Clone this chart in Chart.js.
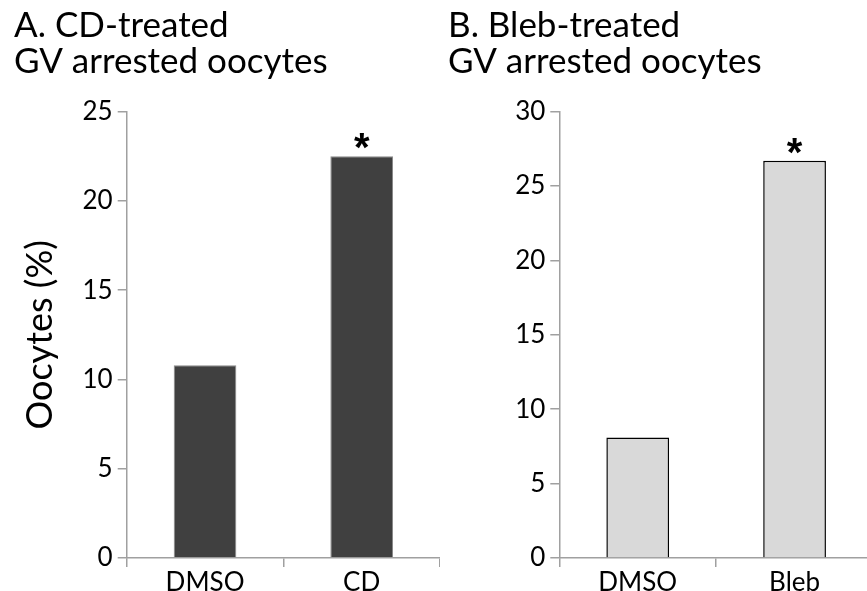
<!DOCTYPE html>
<html>
<head>
<meta charset="utf-8">
<script src="https://cdn.jsdelivr.net/npm/chart.js@4.4.0/dist/chart.umd.min.js"></script>
<style>
  html, body { margin:0; padding:0; background:#fff; }
  body { width:867px; height:591px; overflow:hidden; position:relative; }
  #wa { position:absolute; left:0; top:0; width:440px; height:591px; }
  #wb { position:absolute; left:440px; top:0; width:433px; height:591px; }
</style>
</head>
<body>
<div id="wa"><canvas id="ca" width="440" height="591"></canvas></div>
<div id="wb"><canvas id="cb" width="433" height="591"></canvas></div>
<script>
// ---- data ----
const categoriesA = ['DMSO', 'CD'];
const valuesA = [10.8, 22.5];
const marksA = ['', '*'];
const titleA = ['A. CD-treated', 'GV arrested oocytes'];

const categoriesB = ['DMSO', 'Bleb'];
const valuesB = [8.1, 26.7];
const marksB = ['', '*'];
const titleB = ['B. Bleb-treated', 'GV arrested oocytes'];

const yTitle = 'Oocytes (%)';
const yMaxA = 25, yMaxB = 30, yStep = 5;

const FONT = 'Lato, "Open Sans", sans-serif';
const AXIS = '#a0a0a0';

const starPlugin = {
  id: 'stars',
  afterDatasetsDraw(chart, args, opts) {
    const ctx = chart.ctx;
    const meta = chart.getDatasetMeta(0);
    ctx.save();
    ctx.fillStyle = '#000';
    ctx.font = 'bold 40px "Liberation Sans", Arial, sans-serif';
    ctx.textAlign = 'center';
    ctx.textBaseline = 'alphabetic';
    meta.data.forEach((bar, i) => {
      const m = opts.marks[i];
      if (!m) return;
      const mt = ctx.measureText(m);
      ctx.fillText(m, bar.x, bar.y - 7 - mt.actualBoundingBoxDescent);
    });
    ctx.restore();
  }
};

function makeChart(id, cats, vals, marks, title, yMax, fill, border, bw, yAxisWidth, showYTitle) {
  return new Chart(document.getElementById(id), {
    type: 'bar',
    data: {
      labels: cats,
      datasets: [{
        data: vals,
        backgroundColor: fill,
        borderColor: border,
        borderWidth: bw,
        borderSkipped: 'bottom',
        categoryPercentage: 1.0,
        barPercentage: 0.4
      }]
    },
    plugins: [starPlugin],
    options: {
      responsive: false,
      animation: false,
      events: [],
      layout: { padding: { left: showYTitle ? 14 : 8, right: 0, top: 0, bottom: 0 } },
      plugins: {
        legend: { display: false },
        tooltip: { enabled: false },
        stars: { marks: marks },
        title: {
          display: true,
          text: title,
          align: 'start',
          color: '#000',
          font: { family: FONT, size: 35, weight: 'normal', lineHeight: 1.02 },
          padding: { top: 8, bottom: 32.3 }
        }
      },
      scales: {
        x: {
          grid: { display: true, drawOnChartArea: false, drawTicks: true, tickLength: 9, color: AXIS, lineWidth: 1.5, offset: true },
          border: { display: true, color: AXIS, width: 1.5 },
          ticks: { color: '#000', font: { family: FONT, size: 26 }, padding: 0, maxRotation: 0 },
          afterFit(s) { s.height = 33; }
        },
        y: {
          min: 0, max: yMax,
          grid: { display: true, drawOnChartArea: false, drawTicks: true, tickLength: 9, color: AXIS, lineWidth: 1.5 },
          border: { display: true, color: AXIS, width: 1.5 },
          ticks: { stepSize: yStep, color: '#000', font: { family: FONT, size: 26 }, padding: 5 },
          title: {
            display: showYTitle,
            text: yTitle,
            color: '#000',
            font: { family: FONT, size: 36, lineHeight: 1.2 },
            padding: { top: 5, bottom: 0 }
          },
          afterFit(s) { s.width = yAxisWidth; }
        }
      }
    }
  });
}

makeChart('ca', categoriesA, valuesA, marksA, titleA, yMaxA, '#404040', '#8a8a8a', 1, 112.7, true);
makeChart('cb', categoriesB, valuesB, marksB, titleB, yMaxB, '#d9d9d9', '#000000', 1.5, 111.3, false);
</script>
</body>
</html>
